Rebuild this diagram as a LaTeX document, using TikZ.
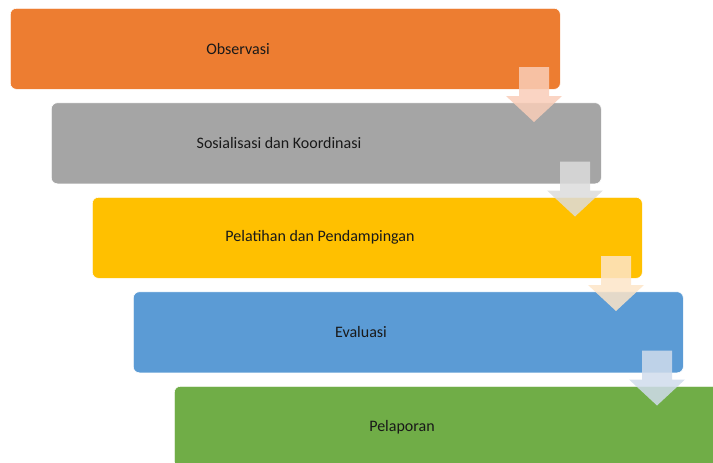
\documentclass[tikz,border=0pt]{standalone}
\usepackage{fontspec}
\setmainfont{Carlito}
\definecolor{stepOrange}{HTML}{ED7D31}
\definecolor{stepGray}{HTML}{A5A5A5}
\definecolor{stepGold}{HTML}{FFC000}
\definecolor{stepBlue}{HTML}{5B9BD5}
\definecolor{stepGreen}{HTML}{70AD47}
\definecolor{arrOrange}{HTML}{F9CDB8}
\definecolor{arrGray}{HTML}{DCDCDC}
\definecolor{arrGold}{HTML}{FDE5C8}
\definecolor{arrBlue}{HTML}{D0DCEC}
\tikzset{
  stepbox/.style={rectangle, rounded corners=6pt, draw=white, line width=0.6pt,
    minimum width=550pt, minimum height=81pt, anchor=north west, inner sep=0pt},
  steptext/.style={font=\fontsize{16}{18}\selectfont, text=black!90}
}
\begin{document}
\begin{tikzpicture}[x=1pt, y=-1pt]
  \useasboundingbox (0,0) rectangle (713,463);
  \clip (0,0) rectangle (713,463);

  % Steps
  \foreach \i/\c/\t in {1/stepOrange/Observasi,
                        2/stepGray/Sosialisasi dan Koordinasi,
                        3/stepGold/Pelatihan dan Pendampingan,
                        4/stepBlue/Evaluasi,
                        5/stepGreen/Pelaporan}
  {
    \node[stepbox, fill=\c] (b\i) at ({10+41*(\i-1)}, {8+94.5*(\i-1)}) {};
    \node[steptext] (t\i) at ([xshift=228pt]b\i.west) {\t};
  }

  % Down arrows between the steps
  \foreach \i/\c in {1/arrOrange, 2/arrGray, 3/arrGold, 4/arrBlue}
  {
    \fill[\c, opacity=0.85]
      ({534+41*(\i-1)-15}, {67+94.5*(\i-1)}) --
      ({534+41*(\i-1)+15}, {67+94.5*(\i-1)}) --
      ({534+41*(\i-1)+15}, {96+94.5*(\i-1)}) --
      ({534+41*(\i-1)+28}, {96+94.5*(\i-1)}) --
      ({534+41*(\i-1)}, {122+94.5*(\i-1)}) --
      ({534+41*(\i-1)-28}, {96+94.5*(\i-1)}) --
      ({534+41*(\i-1)-15}, {96+94.5*(\i-1)}) -- cycle;
  }
\end{tikzpicture}
\end{document}
